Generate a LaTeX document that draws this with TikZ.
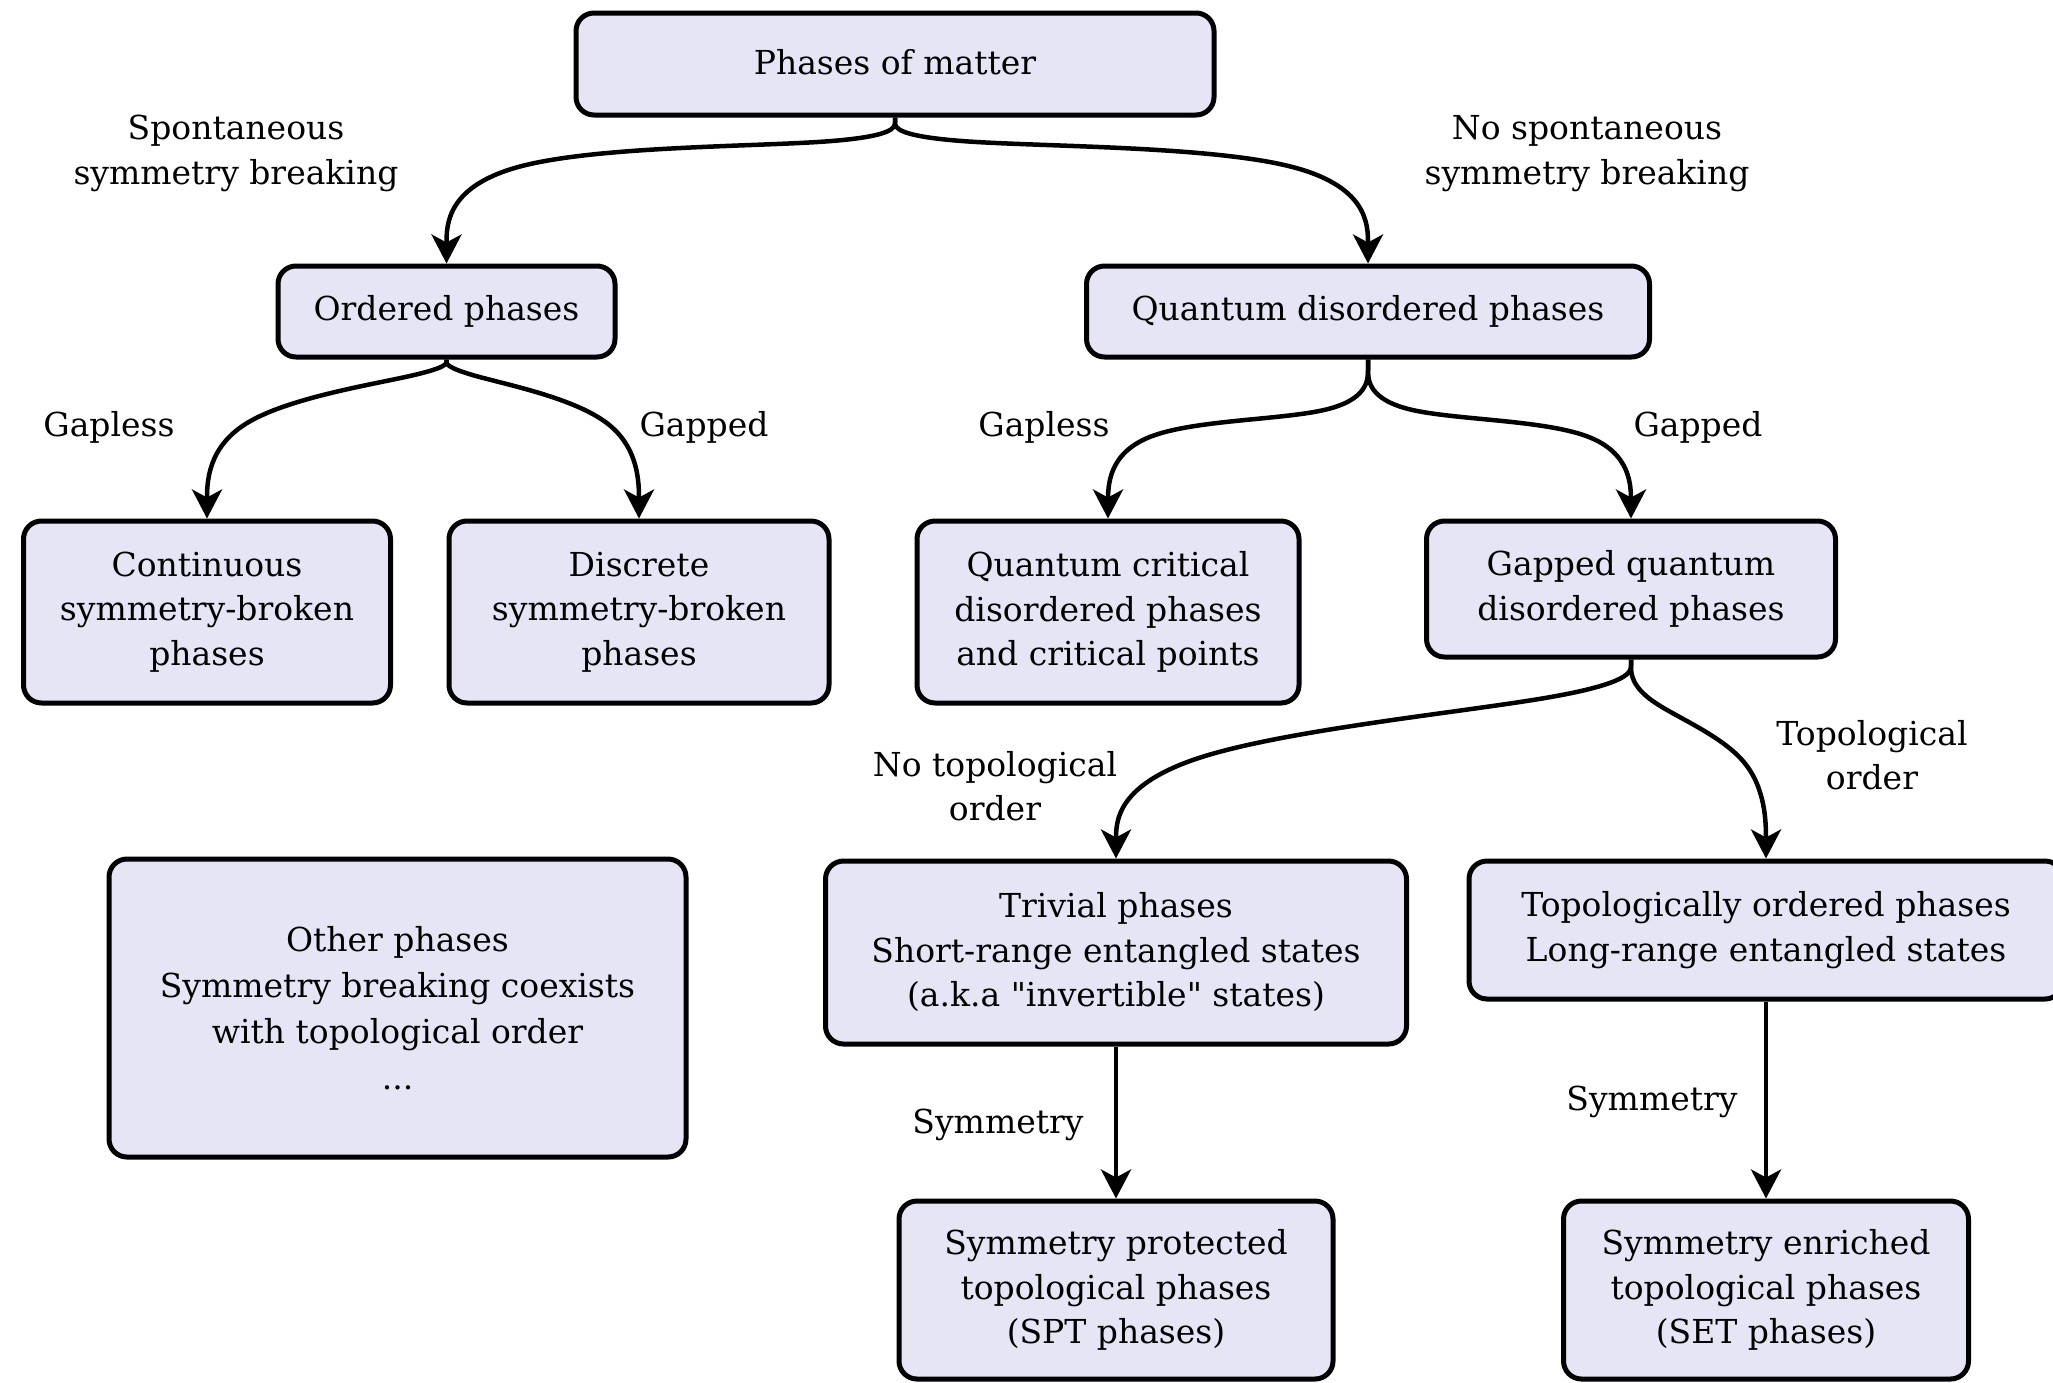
\documentclass[tikz,border=0pt]{standalone}
\usepackage{fontspec}
\setmainfont{DejaVu Serif}
\newfontfamily\rawfont{DejaVu Serif}
\usetikzlibrary{arrows.meta,calc}
\definecolor{boxfill}{RGB}{229,229,246}
\newcommand\dq{{\rawfont"}}
\tikzset{
  phase/.style={draw=black, line width=5pt, fill=boxfill, rounded corners=18pt,
    align=center, inner sep=0pt, font=\fontsize{33}{44.5}\selectfont},
  lbl/.style={align=center, inner sep=0pt, font=\fontsize{33}{44.5}\selectfont},
  link/.style={line width=4.5pt, -{Stealth[length=29pt,width=30pt,inset=8pt]}},
}
% B-spline connector through (#1.south), (x1,m1), (x2,m2), (#2.north);
% m1 and m2 lie at fractions #3 and #4 of the vertical gap
\newcommand\phaselink[4]{%
  \draw[link] let \p1=(#1.south), \p2=(#2.north),
      \n1={\y1+#3*(\y2-\y1)}, \n2={\y1+#4*(\y2-\y1)} in
    (\p1) -- (\x1,{(5*\y1+\n1)/6})
    .. controls (\x1,{(2*\y1+\n1)/3}) and (\x1,{(\y1+2*\n1)/3})
    .. ({(5*\x1+\x2)/6},{(\y1+4*\n1+\n2)/6})
    .. controls ({(2*\x1+\x2)/3},{(2*\n1+\n2)/3}) and ({(\x1+2*\x2)/3},{(\n1+2*\n2)/3})
    .. ({(\x1+5*\x2)/6},{(\n1+4*\n2+\y2)/6})
    .. controls (\x2,{(2*\n2+\y2)/3}) and (\x2,{(\n2+2*\y2)/3}) .. (\x2,{(\n2+5*\y2)/6})
    -- (\p2);}
\begin{document}
\begin{tikzpicture}[x=1pt, y=-1pt]
\useasboundingbox (0,0) rectangle (2053,1382);

% boxes
\node[phase, minimum width=638pt, minimum height=102pt] (top) at (895,64) {\raisebox{5pt}{Phases of matter}};
\node[phase, minimum width=337pt, minimum height=91pt] (ord) at (446.5,311.5) {Ordered phases};
\node[phase, minimum width=563pt, minimum height=91pt] (qd) at (1368,311.5) {Quantum disordered phases};
\node[phase, minimum width=367pt, minimum height=182pt] (cont) at (207,612) {Continuous\\symmetry-broken\\phases};
\node[phase, minimum width=380pt, minimum height=182pt] (disc) at (639,612) {Discrete\\symmetry-broken\\phases};
\node[phase, minimum width=382pt, minimum height=182pt] (qc) at (1108,612) {Quantum critical\\disordered phases\\and critical points};
\node[phase, minimum width=409pt, minimum height=136pt] (gq) at (1631,589) {Gapped quantum\\disordered phases};
\node[phase, minimum width=577pt, minimum height=298pt, font=\fontsize{33}{46}\selectfont] (other) at (397.5,1008) {Other phases\\Symmetry breaking coexists\\with topological order\\...};
\node[phase, minimum width=581pt, minimum height=183pt] (triv) at (1116,952.5) {Trivial phases\\Short-range entangled states\\(a.k.a \dq invertible\dq{} states)};
\node[phase, minimum width=594pt, minimum height=138pt] (topo) at (1766,930) {Topologically ordered phases\\Long-range entangled states};
\node[phase, minimum width=434pt, minimum height=178pt] (spt) at (1116,1290) {Symmetry protected\\topological phases\\(SPT phases)};
\node[phase, minimum width=405pt, minimum height=178pt] (set) at (1766,1290) {Symmetry enriched\\topological phases\\(SET phases)};

% connectors
\phaselink{top}{ord}{0.2}{0.2}
\phaselink{top}{qd}{0.2}{0.2}
\phaselink{ord}{cont}{0.08}{0.33}
\phaselink{ord}{disc}{0.08}{0.33}
\phaselink{qd}{qc}{0.38}{0.38}
\phaselink{qd}{gq}{0.38}{0.38}
\phaselink{gq}{triv}{0.18}{0.44}
\phaselink{gq}{topo}{0.2}{0.47}
\draw[link] (triv.south) -- (spt.north);
\draw[link] (topo.south) -- (set.north);

% branch labels
\node[lbl] (lssb) at (236,153.5) {Spontaneous\\symmetry breaking};
\node[lbl] (lnssb) at (1587,153.5) {No spontaneous\\symmetry breaking};
\node[lbl] (lgl1) at (109,427) {Gapless};
\node[lbl] (lgp1) at (704,427) {Gapped};
\node[lbl] (lgl2) at (1044,427) {Gapless};
\node[lbl] (lgp2) at (1698,427) {Gapped};
\node[lbl] (lnto) at (995,786) {No topological\\order};
\node[lbl] (lto) at (1872,755) {Topological\\order};
\node[lbl] (lsym1) at (998,1125) {Symmetry};
\node[lbl] (lsym2) at (1652,1102) {Symmetry};
\end{tikzpicture}
\end{document}
